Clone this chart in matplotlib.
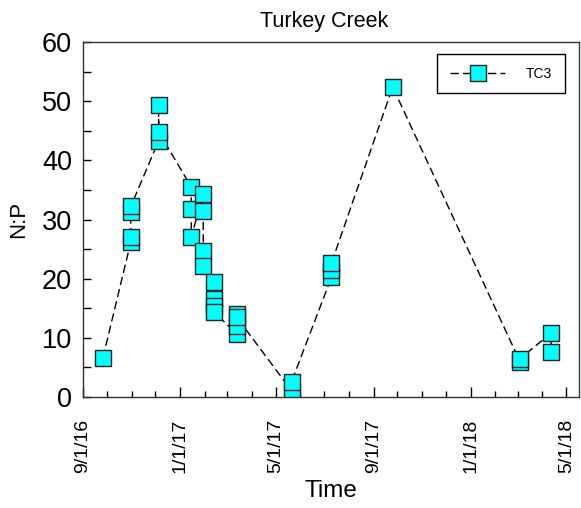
import datetime as dt
import matplotlib
matplotlib.use("Agg")
import matplotlib.pyplot as plt
import matplotlib.dates as mdates
from matplotlib.ticker import MultipleLocator, FuncFormatter

plt.rcParams['font.family'] = ['Liberation Sans', 'DejaVu Sans']

# TC3 samples in the order they were logged (replicates share a date)
sample_dates = [
    "2016-09-26",
    "2016-10-31", "2016-10-31", "2016-10-31", "2016-10-31",
    "2016-12-05", "2016-12-05", "2016-12-05",
    "2017-01-15", "2017-01-15", "2017-01-15",
    "2017-01-30", "2017-01-30", "2017-01-30", "2017-01-30",
    "2017-02-13", "2017-02-13", "2017-02-13", "2017-02-13",
    "2017-03-13", "2017-03-13", "2017-03-13", "2017-03-13",
    "2017-05-21", "2017-05-21",
    "2017-07-10", "2017-07-10", "2017-07-10",
    "2017-09-25",
    "2018-03-04", "2018-03-04",
    "2018-04-12", "2018-04-12",
]
np_ratio = [
    6.6,
    26.2, 27.0, 31.2, 32.2,
    43.3, 49.3, 44.8,
    35.5, 31.8, 27.0,
    34.3, 31.5, 24.6, 22.1,
    19.5, 16.6, 15.4, 14.3,
    10.7, 12.0, 14.0, 13.5,
    1.05, 2.6,
    20.2, 21.4, 22.6,
    52.4,
    5.95, 6.5,
    10.8, 7.65,
]

dates = [dt.datetime.strptime(d, "%Y-%m-%d") for d in sample_dates]


def short_date(v, pos):
    d = mdates.num2date(v)
    return f"{d.month}/{d.day}/{d.year % 100}"


fig = plt.figure(figsize=(5.81, 5.08), dpi=100)
ax = fig.add_axes([83 / 581, 1 - 397 / 508, (579 - 83) / 581, (397 - 42) / 508])

ax.plot(dates, np_ratio, color='black', lw=1.0, dashes=(6, 3),
        marker='s', markersize=11.5, markerfacecolor='#00ffff',
        markeredgecolor='#222222', markeredgewidth=1.0, label='TC3')

ax.set_xlim(dt.datetime(2016, 9, 1), dt.datetime(2018, 5, 17))
ax.set_ylim(0, 60)

ax.xaxis.set_major_locator(mdates.MonthLocator(bymonth=[1, 5, 9]))
ax.xaxis.set_minor_locator(mdates.MonthLocator())
ax.xaxis.set_major_formatter(FuncFormatter(short_date))
ax.yaxis.set_major_locator(MultipleLocator(10))
ax.yaxis.set_minor_locator(MultipleLocator(5))

ax.tick_params(axis='x', which='major', direction='in', length=7, width=1,
               labelsize=14, labelrotation=90, pad=16)
ax.tick_params(axis='x', which='minor', direction='in', length=4, width=1)
ax.tick_params(axis='y', which='both', direction='in', length=6, width=1,
               labelsize=19.5, pad=8)

for s in ax.spines.values():
    s.set_color('#333333')
    s.set_linewidth(1.0)

ax.set_title('Turkey Creek', fontsize=15.5, pad=11, x=0.487)
ax.set_xlabel('Time', fontsize=17.5, labelpad=5)
ax.set_ylabel('N:P', fontsize=16, labelpad=9)

leg = ax.legend(loc='upper right', bbox_to_anchor=(1 - 14 / 496, 1 - 12 / 355),
                fontsize=10, fancybox=False, edgecolor='black', framealpha=1,
                handlelength=4.0, handletextpad=1.5, borderpad=0.9, borderaxespad=0)
leg.get_frame().set_linewidth(1.0)

fig.savefig('out.png', dpi=100)
